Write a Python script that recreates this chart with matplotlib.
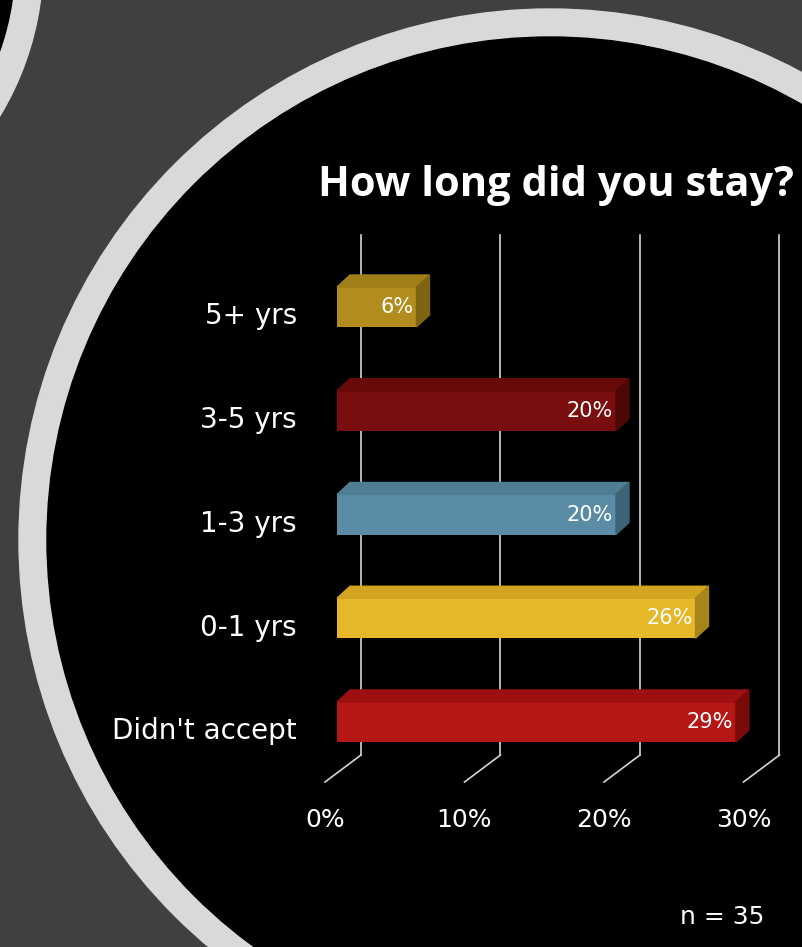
import numpy as np
import matplotlib.pyplot as plt
from matplotlib.patches import Circle, Polygon

# survey data (n = 35)
categories = ["Didn't accept", "0-1 yrs", "1-3 yrs", "3-5 yrs", "5+ yrs"]
shares = [28.6, 25.7, 20.0, 20.0, 5.7]
front_colors = ["#b51616", "#e6b729", "#5a8ca6", "#7a0d0d", "#b28c1c"]
top_colors = ["#9c1010", "#d2a420", "#4f7d94", "#680a0a", "#a07e18"]
side_colors = ["#7a0b0b", "#a88518", "#3d6376", "#4e0707", "#7e6312"]
xticks = [0, 10, 20, 30]
xtick_labels = ["0%", "10%", "20%", "30%"]
title = "How long did you stay?"
note = "n = 35"

W, H = 803, 947
PX_PCT = 13.95      # pixels per percent
PX_CAT = 103.75     # pixels between bars
X0, Y0 = 337, 722   # bar front 0% / bottom bar centre, in pixels

fig = plt.figure(figsize=(W / 100, H / 100), dpi=100)
fig.patch.set_facecolor("#404040")

# slide decoration
bg = fig.add_axes([0, 0, 1, 1])
bg.set_xlim(0, W)
bg.set_ylim(H, 0)
bg.axis("off")
bg.add_patch(Circle((-257, -39), 300, color="#d9d9d9"))
bg.add_patch(Circle((-257, -39), 272, color="black"))
bg.add_patch(Circle((550, 540), 531, color="#d9d9d9"))
bg.add_patch(Circle((550, 540), 503, color="black"))

# chart axes: x in percent, y in category index
ax = fig.add_axes([0, 0, 1, 1])
ax.patch.set_alpha(0)
ax.set_xlim(-X0 / PX_PCT, (W - X0) / PX_PCT)
ax.set_ylim((Y0 - H) / PX_CAT, Y0 / PX_CAT)
ax.axis("off")

# 3d frame
wall_dx = 24 / PX_PCT
floor_dx = -12 / PX_PCT
wall_top = (Y0 - 235) / PX_CAT
wall_bot = (Y0 - 755) / PX_CAT
floor_front = (Y0 - 782) / PX_CAT
for t in xticks:
    ax.plot([t + wall_dx, t + wall_dx], [wall_bot, wall_top], color="#d4d4d4", lw=1.2, zorder=1)
    ax.plot([t + floor_dx, t + wall_dx], [floor_front, wall_bot], color="#d4d4d4", lw=1.2, zorder=1)
    ax.text(t + floor_dx, (Y0 - 820) / PX_CAT, f"{t}%", ha="center", va="center",
            color="white", fontsize=18)

# bars
h = 40 / PX_CAT
dx, dy = 13 / PX_PCT, 12 / PX_CAT
pos = np.arange(len(categories))
ax.barh(pos, shares, height=h, left=0, color=front_colors, zorder=3)
for i, v in enumerate(shares):
    y0, y1 = i - h / 2, i + h / 2
    ax.add_patch(Polygon([(0, y1), (v, y1), (v + dx, y1 + dy), (dx, y1 + dy)],
                         closed=True, color=top_colors[i], zorder=3))
    ax.add_patch(Polygon([(v, y0), (v + dx, y0 + dy), (v + dx, y1 + dy), (v, y1)],
                         closed=True, color=side_colors[i], zorder=3))
    ax.text(v - 0.2, i, f"{v:.0f}%", ha="right", va="center", color="white",
            fontsize=15, zorder=4)
    ax.text(-40 / PX_PCT, i - 0.09, categories[i], ha="right", va="center",
            color="white", fontsize=20)

fig.text(556 / W, 1 - 185 / H, title, ha="center", va="center", color="white",
         fontsize=30, fontweight="bold", family="Open Sans")
fig.text(722 / W, 1 - 917 / H, note, ha="center", va="center", color="white", fontsize=18)

fig.savefig("out.png", dpi=100, facecolor=fig.get_facecolor())
